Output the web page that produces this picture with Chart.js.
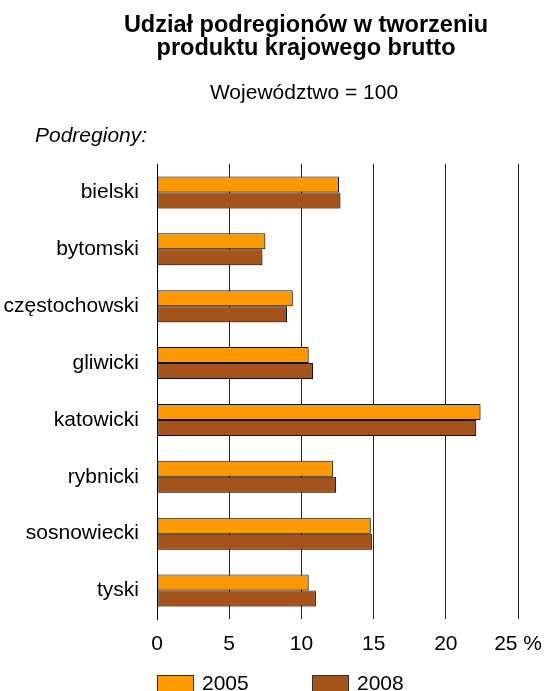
<!DOCTYPE html>
<html lang="pl">
<head>
<meta charset="utf-8">
<title>Udział podregionów w tworzeniu PKB</title>
<script src="https://cdn.jsdelivr.net/npm/chart.js@4"></script>
<style>
  html, body { margin: 0; padding: 0; background: #fff; }
  #wrap { width: 555px; height: 691px; position: relative; }
</style>
</head>
<body>
<div id="wrap"><canvas id="myChart"></canvas></div>
<script>
// data (share of voivodeship GDP, %)
const categories = ["bielski", "bytomski", "częstochowski", "gliwicki", "katowicki", "rybnicki", "sosnowiecki", "tyski"];
const values2005 = [12.6, 7.5, 9.4, 10.5, 22.4, 12.2, 14.8, 10.5];
const values2008 = [12.7, 7.3, 9.0, 10.8, 22.1, 12.4, 14.9, 11.0];
const seriesLabels = ["2005", "2008"];
const tickValues = [0, 5, 10, 15, 20, 25];

const FONT = "'Liberation Sans', Arial, sans-serif";

// title, subtitle, "Podregiony:" and the legend at the bottom
const textPlugin = {
  id: "texts",
  afterDraw(chart) {
    const c = chart.ctx;
    c.save();
    c.fillStyle = "#000";
    c.textAlign = "center";
    c.textBaseline = "alphabetic";
    c.font = "bold 23.5px " + FONT;
    c.fillText("Udział podregionów w tworzeniu", 306, 32);
    c.fillText("produktu krajowego brutto", 306, 55);
    c.font = "21px " + FONT;
    c.fillText("Województwo = 100", 304, 99);
    c.textAlign = "left";
    c.font = "italic 21px " + FONT;
    c.fillText("Podregiony:", 35, 142);

    // legend
    const xs = [157, 312];
    c.font = "21px " + FONT;
    chart.data.datasets.forEach((ds, i) => {
      c.fillStyle = ds.backgroundColor;
      c.fillRect(xs[i], 675, 36, 16);
      c.strokeStyle = "#333";
      c.lineWidth = 1;
      c.strokeRect(xs[i] + 0.5, 675.5, 36, 16);
      c.fillStyle = "#000";
      c.fillText(ds.label, xs[i] + 45, 690);
    });
    c.restore();
  },
};

// light shadow under the bars
const shadowPlugin = {
  id: "barShadow",
  beforeDatasetsDraw(chart) {
    const c = chart.ctx;
    c.save();
    c.shadowColor = "rgba(0,0,0,0.25)";
    c.shadowOffsetX = 1.5;
    c.shadowOffsetY = 1.5;
    c.shadowBlur = 0;
  },
  afterDatasetsDraw(chart) {
    chart.ctx.restore();
  },
};

const ctx = document.getElementById("myChart");
const myChart = new Chart(ctx, {
  type: "bar",
  data: {
    labels: categories,
    datasets: [
      {
        label: seriesLabels[0],
        data: values2005,
        backgroundColor: "#FF9900",
        borderColor: "#111",
        borderWidth: 1,
        borderSkipped: false,
      },
      {
        label: seriesLabels[1],
        data: values2008,
        backgroundColor: "#A65319",
        borderColor: "#111",
        borderWidth: 1,
        borderSkipped: false,
      },
    ],
  },
  options: {
    indexAxis: "y",
    responsive: true,
    maintainAspectRatio: false,
    animation: false,
    categoryPercentage: 0.563,
    barPercentage: 1.0,
    layout: {
      padding: { top: 164, right: 33, bottom: 0, left: 0 },
    },
    scales: {
      x: {
        min: 0,
        max: 25,
        afterBuildTicks: (scale) => {
          scale.ticks = tickValues.map((v) => ({ value: v }));
        },
        afterFit: (scale) => {
          scale.height = 72;
        },
        grid: {
          color: "#222",
          lineWidth: 1,
          drawTicks: false,
        },
        border: { display: false },
        ticks: {
          padding: 13,
          color: "#000",
          font: { size: 21, family: FONT },
          callback: (value) => (value === 25 ? "25 %" : value),
        },
      },
      y: {
        afterFit: (scale) => {
          scale.width = 157;
        },
        grid: { display: false },
        border: { display: true, color: "#000", width: 1 },
        ticks: {
          padding: 10,
          color: "#000",
          font: { size: 21, family: FONT },
        },
      },
    },
    plugins: {
      legend: { display: false },
      tooltip: { enabled: false },
    },
  },
  plugins: [textPlugin, shadowPlugin],
});
</script>
</body>
</html>
